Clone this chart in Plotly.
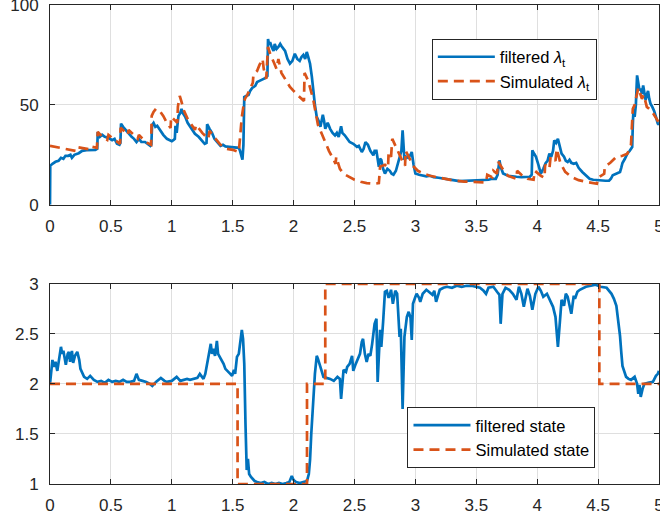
import plotly.graph_objects as go

# ---------------- data: top panel (intensity) ----------------
lam_filt_t = [0.000, 0.002, 0.02, 0.045, 0.07, 0.09, 0.11, 0.127, 0.15, 0.168, 0.18, 0.20, 0.236, 0.264, 0.30, 0.34,
              0.373, 0.388, 0.392, 0.41, 0.428, 0.45, 0.48, 0.51, 0.53, 0.55, 0.57, 0.578, 0.583, 0.60, 0.62, 0.645,
              0.67, 0.69, 0.71, 0.73, 0.75, 0.78, 0.80, 0.824, 0.832, 0.838, 0.85, 0.865, 0.88, 0.906, 0.93, 0.96,
              0.98, 1.0, 1.015, 1.025, 1.03, 1.04, 1.05, 1.055, 1.07, 1.08, 1.09, 1.11, 1.13, 1.165, 1.19, 1.22,
              1.25, 1.27, 1.285, 1.29, 1.31, 1.33, 1.35, 1.37, 1.40, 1.42, 1.44, 1.47, 1.49, 1.52, 1.55, 1.56,
              1.575, 1.58, 1.588, 1.595, 1.61, 1.63, 1.643, 1.66, 1.685, 1.70, 1.72, 1.75, 1.77, 1.785, 1.79, 1.80,
              1.807, 1.82, 1.835, 1.845, 1.86, 1.875, 1.89, 1.90, 1.915, 1.93, 1.95, 1.97, 1.99, 2.01, 2.03, 2.05,
              2.065, 2.08, 2.095, 2.108, 2.12, 2.135, 2.15, 2.16, 2.175, 2.19, 2.205, 2.22, 2.24, 2.25, 2.26, 2.28,
              2.30, 2.32, 2.34, 2.355, 2.37, 2.39, 2.40, 2.42, 2.44, 2.46, 2.49, 2.52, 2.535, 2.56, 2.575, 2.59,
              2.61, 2.63, 2.655, 2.665, 2.68, 2.69, 2.70, 2.71, 2.72, 2.735, 2.75, 2.77, 2.79, 2.805, 2.82, 2.84,
              2.86, 2.87, 2.885, 2.895, 2.905, 2.91, 2.925, 2.94, 2.96, 2.97, 2.985, 3.0, 3.03, 3.06, 3.09, 3.12,
              3.15, 3.19, 3.23, 3.27, 3.31, 3.36, 3.42, 3.48, 3.52, 3.56, 3.6, 3.63, 3.66, 3.675, 3.69, 3.70,
              3.72, 3.76, 3.80, 3.83, 3.87, 3.91, 3.94, 3.955, 3.96, 3.975, 3.99, 4.01, 4.03, 4.05, 4.07, 4.085,
              4.10, 4.115, 4.13, 4.14, 4.155, 4.17, 4.185, 4.20, 4.22, 4.235, 4.25, 4.265, 4.28, 4.30, 4.32, 4.34,
              4.37, 4.40, 4.43, 4.46, 4.49, 4.53, 4.56, 4.59, 4.605, 4.62, 4.65, 4.68, 4.69, 4.70, 4.72, 4.74,
              4.76, 4.78, 4.785, 4.79, 4.80, 4.81, 4.82, 4.83, 4.84, 4.85, 4.86, 4.87, 4.88, 4.89, 4.90, 4.91,
              4.92, 4.93, 4.945, 4.96, 4.975, 4.99, 5.0]
lam_filt_v = [0, 19.5, 20.5, 21.5, 22, 23.5, 23, 24.5, 24.5, 25, 23.5, 25, 25.8, 27, 27.3, 27.3,
              27.5, 28, 36.4, 34, 35, 34, 33.5, 32.3, 33, 30.5, 30, 31, 40.6, 39, 37.5, 36,
              34, 33, 31.4, 33, 31.5, 31.4, 30.5, 29.4, 30, 40, 41, 39, 39.5, 37, 35, 33,
              32.3, 31.8, 32.5, 33, 39.5, 36, 42, 44.5, 46, 48, 46, 44, 41, 37.5, 35.5, 34,
              32, 30.5, 31, 40.3, 38, 36, 33, 31.5, 29.5, 30, 29.2, 29, 28.9, 28.5, 28.5, 27,
              23.5, 22.6, 30, 53.9, 54.5, 55, 57, 58.5, 59.5, 61.4, 62, 63, 63.5, 64.5, 83, 80,
              81.4, 79, 77, 80.5, 78, 79, 80.5, 79.5, 78, 77, 73, 70.6, 72, 75.6, 73, 72,
              74, 75, 73, 76.5, 74, 70.6, 64, 57.25, 50, 44, 42, 39, 45, 42, 38, 41,
              38, 36, 34.75, 36, 34, 39.25, 36, 34.75, 33, 31.4, 30.5, 29, 29.5, 26.4, 28, 31.4,
              30, 27, 24.75, 27, 27, 22, 19, 23, 22.4, 18, 15.6, 18, 17, 15.5, 15, 17,
              22, 24, 27, 37.25, 28, 22.4, 24, 23.5, 25, 26.4, 20, 15.6, 15, 14.8, 14.25, 14.5,
              13.8, 13.5, 13, 12.8, 12.3, 11.8, 12, 12, 12.3, 12.25, 12.5, 13, 13, 15, 22.25, 19,
              15.6, 14.5, 14, 14, 13.8, 14, 14, 15, 27.25, 25.5, 24, 20, 15.6, 18, 20.9, 22,
              25.6, 24, 27, 32.25, 31, 33, 29, 25.6, 24, 22, 21.4, 22.5, 21, 20.5, 20.9, 18.5,
              16.4, 14.8, 13, 12.5, 12.25, 12, 12, 12, 13, 14.8, 15.5, 16.4, 18.5, 20.9, 23, 25.6,
              27, 28.9, 40, 47.25, 44, 50, 64.75, 60, 57.25, 58, 55.5, 59.75, 56, 52.4, 55, 57,
              53, 50.6, 49, 47, 44, 40.6, 40]

lam_sim_t = [0.0, 0.12, 0.22, 0.23, 0.32, 0.33, 0.385, 0.392, 0.43, 0.47, 0.48, 0.52, 0.56, 0.575, 0.58, 0.62,
             0.64, 0.645, 0.68, 0.70, 0.72, 0.73, 0.76, 0.80, 0.83, 0.835, 0.85, 0.87, 0.90, 0.93, 0.96, 0.99,
             0.995, 1.03, 1.045, 1.05, 1.065, 1.08, 1.10, 1.13, 1.16, 1.19, 1.20, 1.25, 1.30, 1.31, 1.36, 1.40,
             1.45, 1.50, 1.55, 1.56, 1.575, 1.59, 1.60, 1.62, 1.64, 1.665, 1.67, 1.70, 1.72, 1.745, 1.755, 1.775,
             1.79, 1.81, 1.84, 1.86, 1.875, 1.90, 1.93, 1.97, 2.00, 2.03, 2.085, 2.09, 2.12, 2.16, 2.20, 2.23,
             2.26, 2.29, 2.32, 2.345, 2.35, 2.38, 2.41, 2.46, 2.50, 2.55, 2.60, 2.66, 2.70, 2.71, 2.75, 2.775,
             2.78, 2.80, 2.81, 2.84, 2.87, 2.90, 2.915, 2.92, 2.95, 2.98, 3.02, 3.07, 3.12, 3.2, 3.3, 3.4,
             3.5, 3.58, 3.59, 3.63, 3.64, 3.67, 3.68, 3.72, 3.76, 3.80, 3.83, 3.835, 3.87, 3.92, 3.97, 3.98,
             4.03, 4.06, 4.065, 4.10, 4.11, 4.15, 4.16, 4.19, 4.23, 4.28, 4.34, 4.40, 4.46, 4.49, 4.50, 4.55,
             4.555, 4.60, 4.65, 4.70, 4.74, 4.77, 4.785, 4.80, 4.83, 4.86, 4.875, 4.90, 4.94, 4.97, 5.0]
lam_sim_v = [29.5, 28, 26.8, 28.8, 27.8, 29.2, 28.5, 36.5, 34, 32.5, 35, 33, 31, 30.5, 38.5, 36,
             35, 37.5, 35.5, 34, 33, 35, 33, 31, 30, 44.5, 46.5, 48, 47, 44.5, 41, 38.5,
             44, 42, 41, 49, 54.5, 51.5, 47, 43, 40, 37.5, 40, 36, 33, 37, 33, 30,
             28, 27.5, 26.4, 34, 44, 50, 53, 55, 58, 61, 65, 67, 70, 73, 68, 63,
             79, 75, 71, 68, 73, 66, 63, 59, 57, 55, 52, 66, 62, 53, 40, 35.5,
             31, 27, 23.5, 20.5, 24, 18, 15.5, 14, 12.5, 11.5, 10.8, 10.5, 10.8, 19, 20, 18.5,
             26, 24, 33, 29, 24.5, 21, 19.5, 27, 23.5, 19.5, 17, 15.5, 14.5, 13.5, 12.3, 11.6,
             11.2, 11.2, 15, 13.8, 17, 15.5, 21.5, 17.5, 14.5, 13.5, 13, 17, 15, 13, 12.5, 17,
             14.5, 13.5, 20, 18, 24, 22, 28, 21, 16.5, 14, 12.3, 11.5, 11, 10.5, 13.5, 15.5,
             19, 21, 24, 24.5, 25.5, 30, 48, 50, 58.5, 53, 55, 49, 47, 44, 41]

# ---------------- data: bottom panel (state) ----------------
state_filt_t = [0.0, 0.01, 0.02, 0.03, 0.045, 0.06, 0.075, 0.09, 0.10, 0.11, 0.12, 0.13, 0.145, 0.155, 0.165, 0.18,
                0.19, 0.205, 0.224, 0.24, 0.25, 0.265, 0.28, 0.305, 0.33, 0.36, 0.39, 0.42, 0.45, 0.48, 0.51, 0.54,
                0.57, 0.60, 0.63, 0.66, 0.69, 0.71, 0.73, 0.76, 0.79, 0.82, 0.84, 0.87, 0.91, 0.94, 0.96, 1.0,
                1.04, 1.07, 1.10, 1.125, 1.15, 1.18, 1.21, 1.23, 1.26, 1.275, 1.29, 1.31, 1.32, 1.33, 1.34, 1.355,
                1.37, 1.38, 1.395, 1.41, 1.425, 1.44, 1.46, 1.48, 1.495, 1.51, 1.52, 1.535, 1.55, 1.56, 1.575, 1.585,
                1.595, 1.605, 1.615, 1.625, 1.635, 1.65, 1.68, 1.70, 1.73, 1.76, 1.79, 1.82, 1.85, 1.88, 1.91, 1.94,
                1.965, 1.985, 2.0, 2.02, 2.05, 2.08, 2.11, 2.125, 2.135, 2.145, 2.16, 2.175, 2.19, 2.20, 2.22, 2.245,
                2.27, 2.30, 2.33, 2.36, 2.38, 2.39, 2.41, 2.43, 2.44, 2.46, 2.48, 2.49, 2.51, 2.53, 2.545, 2.56,
                2.57, 2.585, 2.60, 2.615, 2.63, 2.645, 2.65, 2.665, 2.68, 2.69, 2.71, 2.72, 2.735, 2.74, 2.75, 2.765,
                2.78, 2.79, 2.80, 2.815, 2.82, 2.835, 2.85, 2.86, 2.87, 2.88, 2.895, 2.91, 2.92, 2.93, 2.945, 2.96,
                2.97, 2.98, 3.0, 3.01, 3.03, 3.04, 3.06, 3.09, 3.11, 3.14, 3.155, 3.17, 3.185, 3.2, 3.23, 3.26,
                3.30, 3.34, 3.38, 3.42, 3.46, 3.50, 3.53, 3.56, 3.58, 3.60, 3.64, 3.67, 3.69, 3.70, 3.715, 3.74,
                3.77, 3.80, 3.83, 3.85, 3.87, 3.89, 3.92, 3.94, 3.96, 3.985, 4.01, 4.03, 4.05, 4.08, 4.10, 4.13,
                4.15, 4.17, 4.185, 4.20, 4.22, 4.235, 4.25, 4.28, 4.30, 4.31, 4.33, 4.35, 4.40, 4.44, 4.48, 4.52,
                4.57, 4.61, 4.63, 4.65, 4.665, 4.68, 4.69, 4.70, 4.73, 4.75, 4.77, 4.80, 4.82, 4.83, 4.84, 4.85,
                4.865, 4.88, 4.91, 4.95, 4.975, 4.99, 5.0]
state_filt_v = [2.0, 2.1, 2.24, 2.17, 2.22, 2.13, 2.25, 2.37, 2.3, 2.33, 2.26, 2.19, 2.3, 2.32, 2.22, 2.33,
                2.21, 2.28, 2.32, 2.24, 2.15, 2.1, 2.07, 2.05, 2.08, 2.04, 2.02, 2.03, 2.01, 2.04, 2.02, 2.03,
                2.02, 2.04, 2.02, 2.02, 2.03, 2.1, 2.04, 2.03, 2.02, 2.0, 1.98, 2.02, 2.06, 2.03, 2.02, 2.03,
                2.07, 2.03, 2.04, 2.05, 2.04, 2.05, 2.06, 2.1, 2.05, 2.1, 2.2, 2.36, 2.40, 2.3, 2.35, 2.28,
                2.43, 2.3, 2.27, 2.24, 2.2, 2.15, 2.12, 2.1, 2.08, 2.14, 2.1, 2.27, 2.3, 2.4, 2.54, 2.45,
                2.2, 1.6, 1.14, 1.25, 1.1, 1.07, 1.03, 1.02, 1.01, 1.02, 1.0, 1.01, 1.0, 1.01, 1.0, 1.01,
                1.02, 1.08, 1.04, 1.02, 1.01, 1.02, 1.03, 1.1, 1.24, 1.5, 1.87, 2.1, 2.28, 2.25, 2.17, 2.07,
                2.06, 2.05, 2.03, 2.07, 2.05, 1.85, 2.14, 2.12, 2.17, 2.2, 2.28, 2.13, 2.2, 2.27, 2.3, 2.42,
                2.45, 2.3, 2.22, 2.3, 2.28, 2.4, 2.47, 2.6, 2.65, 2.02, 2.54, 2.37, 2.62, 2.77, 2.92, 2.93,
                2.86, 2.89, 2.94, 2.8, 2.83, 2.93, 2.9, 2.7, 2.47, 2.55, 1.75, 2.47, 2.58, 2.67, 2.72, 2.66,
                2.44, 2.8, 2.87, 2.9, 2.86, 2.82, 2.9, 2.94, 2.92, 2.89, 2.93, 2.82, 2.88, 2.94, 2.96, 2.97,
                2.96, 2.98, 2.97, 2.98, 2.98, 2.97, 2.96, 2.93, 2.9, 2.96, 2.97, 2.92, 2.89, 2.6, 2.9, 2.96,
                2.94, 2.9, 2.84, 2.97, 2.9, 2.77, 2.95, 2.88, 2.74, 2.9, 2.97, 2.93, 2.87, 2.9, 2.84, 2.77,
                2.67, 2.37, 2.6, 2.84, 2.78, 2.9, 2.87, 2.7, 2.88, 2.85, 2.92, 2.94, 2.97, 2.98, 2.99, 2.97,
                2.96, 2.9, 2.85, 2.78, 2.65, 2.48, 2.32, 2.18, 2.07, 2.05, 2.04, 2.07, 2.0, 1.9, 1.99, 1.87,
                1.95, 2.0, 2.01, 2.02, 2.08, 2.1, 2.13]

state_sim_t = [0.0, 1.54, 2.11, 2.26, 4.51, 5.0]
state_sim_v = [2, 1, 2, 3, 2, 2]

x_ticks = [0, 0.5, 1, 1.5, 2, 2.5, 3, 3.5, 4, 4.5, 5]
x_tick_labels = ["0", "0.5", "1", "1.5", "2", "2.5", "3", "3.5", "4", "4.5", "5"]
y1_ticks = [0, 50, 100]
y2_ticks = [1, 1.5, 2, 2.5, 3]
y2_tick_labels = ["1", "1.5", "2", "2.5", "3"]

BLUE = "#0072BD"
ORANGE = "#D95319"
AX = "#262626"
GRID = "#dfdfdf"
FONT = "Liberation Sans, Arial, sans-serif"
DASH = "10px,6px"

fig = go.Figure()
fig.add_trace(go.Scatter(x=lam_filt_t, y=lam_filt_v, mode="lines", name="filtered <i>λ</i><sub>t</sub>",
                         line=dict(color=BLUE, width=2.7), xaxis="x", yaxis="y", legend="legend"))
fig.add_trace(go.Scatter(x=lam_sim_t, y=lam_sim_v, mode="lines", name="Simulated <i>λ</i><sub>t</sub>",
                         line=dict(color=ORANGE, width=2.7, dash=DASH), xaxis="x", yaxis="y", legend="legend"))
fig.add_trace(go.Scatter(x=state_filt_t, y=state_filt_v, mode="lines", name="filtered state",
                         line=dict(color=BLUE, width=2.7), xaxis="x2", yaxis="y2", legend="legend2"))
fig.add_trace(go.Scatter(x=state_sim_t, y=state_sim_v, mode="lines", name="Simulated state",
                         line=dict(color=ORANGE, width=2.7, dash=DASH, shape="hv"), xaxis="x2", yaxis="y2",
                         legend="legend2"))

common_axis = dict(showline=True, linecolor=AX, linewidth=1, mirror="ticks", ticks="inside", ticklen=5,
                   tickcolor=AX, tickwidth=1, showgrid=True, gridcolor=GRID, gridwidth=1, zeroline=False,
                   tickfont=dict(family=FONT, size=17, color=AX), automargin=False,
                   ticklabeloverflow="allow")

fig.update_layout(
    template="none",
    width=660, height=518,
    margin=dict(l=50, r=1, t=5, b=34),
    paper_bgcolor="white", plot_bgcolor="white",
    font=dict(family=FONT, size=17, color=AX),
    xaxis=dict(domain=[0, 1], range=[0, 5], tickvals=x_ticks, ticktext=x_tick_labels, anchor="y",
               ticklabelstandoff=6, **common_axis),
    yaxis=dict(domain=[0.583, 1], range=[0, 100], tickvals=y1_ticks, anchor="x",
               ticklabelstandoff=7, **common_axis),
    xaxis2=dict(domain=[0, 1], range=[0, 5], tickvals=x_ticks, ticktext=x_tick_labels, anchor="y2",
                ticklabelstandoff=6, **common_axis),
    yaxis2=dict(domain=[0, 0.418], range=[1, 3], tickvals=y2_ticks, ticktext=y2_tick_labels, anchor="x2",
                ticklabelstandoff=7, **common_axis),
    legend=dict(x=0.627, y=0.930, xanchor="left", yanchor="top", bgcolor="white", bordercolor=AX,
                borderwidth=1, font=dict(family=FONT, size=16.5, color="black"), itemwidth=57),
    legend2=dict(x=0.587, y=0.161, xanchor="left", yanchor="top", bgcolor="white", bordercolor=AX,
                 borderwidth=1, font=dict(family=FONT, size=16.5, color="black"), itemwidth=57),
    showlegend=True,
)

fig.write_html("out.html", config={"displayModeBar": False},
               post_script="document.body.style.margin='0';document.body.style.overflow='hidden';")
